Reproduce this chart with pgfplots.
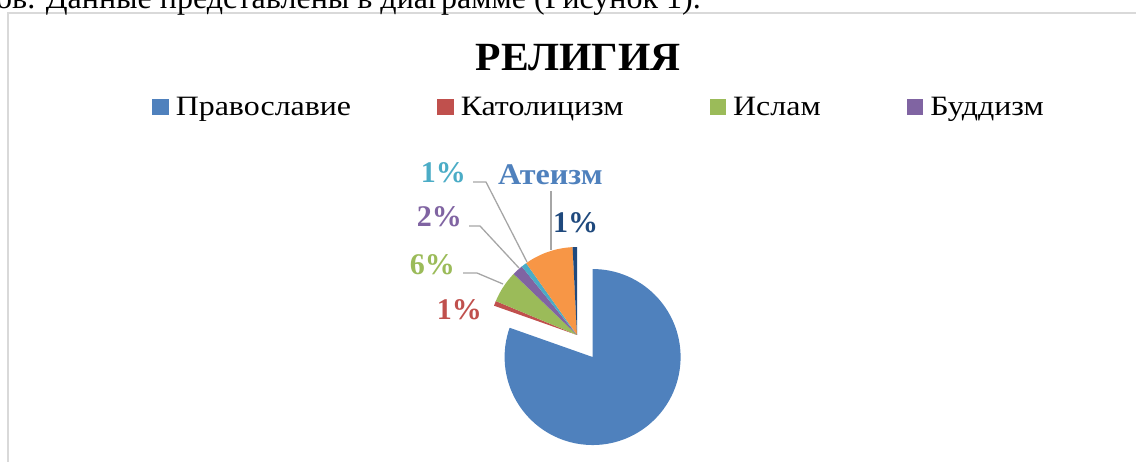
\documentclass[border=0pt]{standalone}
\usepackage{fontspec}
\setmainfont{Liberation Serif}
\usepackage{graphicx}
\usepackage{pgfplots}
\pgfplotsset{compat=1.18}

\definecolor{relA}{HTML}{4F81BD}
\definecolor{relB}{HTML}{C0504D}
\definecolor{relC}{HTML}{9BBB59}
\definecolor{relD}{HTML}{8064A2}
\definecolor{relE}{HTML}{4BACC6}
\definecolor{relF}{HTML}{F79646}
\definecolor{relG}{HTML}{1F497D}
\definecolor{leader}{HTML}{A6A6A6}
\definecolor{frame}{HTML}{D9D9D9}

\newcommand\wide[1]{\scalebox{1.14}[1]{#1}}

\begin{document}
\begin{tikzpicture}
\useasboundingbox (0,0) rectangle (1136pt,461pt);
\clip (0,0) rectangle (1136pt,461pt);
\begin{axis}[
  at={(0pt,0pt)}, anchor=south west,
  scale only axis, width=1136pt, height=461pt,
  xmin=0, xmax=1136, ymin=0, ymax=461,
  hide axis, clip=false,
  legend columns=4,
  legend image code/.code={\fill[#1] (0pt,-8.3pt) rectangle (16.6pt,8.3pt);},
  legend style={
    draw=none, fill=none,
    at={(axis cs:149,354)}, anchor=west,
    font=\fontsize{28}{32}\selectfont,
    nodes={inner sep=0pt},
    /tikz/every odd column/.append style={column sep=7pt},
    /tikz/every even column/.append style={column sep=86pt},
  },
]
% frame of the chart area
\draw[frame, line width=1.7pt] (axis cs:8,-20) -- (axis cs:8,448) -- (axis cs:1160,448);

% line of the surrounding document text, cut at the top
\node[anchor=base east, font=\fontsize{32}{34}\selectfont, inner sep=0pt]
  at (axis cs:701,452.5) {ов. Данные представлены в диаграмме (Рисунок 1).};

\node[font=\fontsize{40}{44}\selectfont\bfseries, anchor=base, inner sep=0pt]
  at (axis cs:578,390.3) {\scalebox{1.04}[1]{РЕЛИГИЯ}};

\addlegendimage{fill=relA, draw=none}
\addlegendentry{\wide{Православие}}
\addlegendimage{fill=relB, draw=none}
\addlegendentry{\wide{Католицизм}}
\addlegendimage{fill=relC, draw=none}
\addlegendentry{\wide{Ислам}}
\addlegendimage{fill=relD, draw=none}
\addlegendentry{\wide{Буддизм}}

% pie: share in percent / colour / explode distance
\pgfplotsextra{
  \foreach \v/\c/\x [remember=\e as \s (initially 90),
      evaluate=\v as \e using \s-3.6*\v]
    in {80.4/relA/27, 0.9/relB/0, 5.9/relC/0, 2.0/relD/0,
        1.0/relE/0, 9.0/relF/0, 0.8/relG/0}{
    \fill[\c] (axis cs:577,126) ++({(\s+\e)/2}:\x pt)
      -- ++(\s:88pt) arc[start angle=\s, end angle=\e, radius=88pt] -- cycle;
  }
}

% leader lines
\draw[leader, line width=1.3pt] (axis cs:473,279) -- (axis cs:486,279) -- (axis cs:527,199);
\draw[leader, line width=1.3pt] (axis cs:469,235) -- (axis cs:480,235) -- (axis cs:519,193);
\draw[leader, line width=1.3pt] (axis cs:463,188) -- (axis cs:477,188) -- (axis cs:503,177);
\draw[leader, line width=1.3pt] (axis cs:551,270) -- (axis cs:551,211);

% data labels
\begin{scope}[every node/.style={font=\fontsize{30}{32}\selectfont\bfseries, inner sep=0pt}]
\node[relE, anchor=base east] at (axis cs:466,278) {1\%};
\node[relD, anchor=base east] at (axis cs:462,234) {2\%};
\node[relC, anchor=base east] at (axis cs:455,186) {6\%};
\node[relB, anchor=base east] at (axis cs:482,141) {1\%};
\node[relA, anchor=base west] at (axis cs:498,276) {\scalebox{1.07}[1]{Атеизм}};
\node[relG, anchor=base west] at (axis cs:553,228) {1\%};
\end{scope}
\end{axis}
\end{tikzpicture}
\end{document}
